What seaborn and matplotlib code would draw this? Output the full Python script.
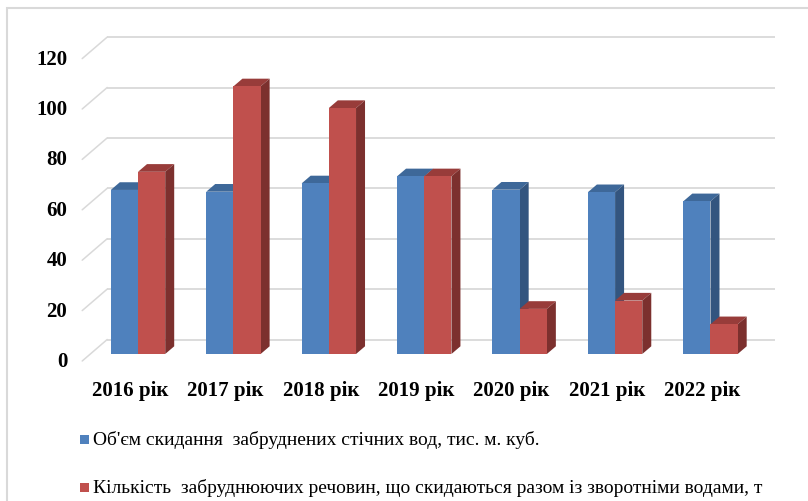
import numpy as np
import pandas as pd
import seaborn as sns
import matplotlib
matplotlib.use("Agg")
import matplotlib.pyplot as plt
from matplotlib.patches import Polygon, Rectangle

# ---------------- data ----------------
years = ["2016 рік", "2017 рік", "2018 рік", "2019 рік", "2020 рік", "2021 рік", "2022 рік"]
series_names = [
    "Об'єм скидання  забруднених стічних вод, тис. м. куб.",
    "Кількість  забруднюючих речовин, що скидаються разом із зворотніми водами, т",
]
volume = [65.1, 64.4, 67.7, 70.5, 65.2, 64.2, 60.6]
pollutants = [72.3, 106.2, 97.6, 70.5, 17.9, 21.2, 11.8]
y_ticks = [0, 20, 40, 60, 80, 100, 120]

front_colors = ["#4F81BD", "#C0504D"]
top_colors = ["#3E6899", "#983C3A"]
side_colors = ["#33557F", "#7C302E"]

df = pd.DataFrame({
    "year": years * 2,
    "value": volume + pollutants,
    "series": [series_names[0]] * len(years) + [series_names[1]] * len(years),
})

# ---------------- figure ----------------
W, H = 808, 502
DPI = 100
sns.set_theme(style="white")
SERIF = ["Liberation Serif", "DejaVu Serif"]
plt.rcParams["font.family"] = SERIF
fig = plt.figure(figsize=(W / DPI, H / DPI), dpi=DPI)

# axes = plane of the bars' front faces (pixel geometry)
x_left, x_right = 90.3, 758.2
y_base, y_top = 355.0, 52.6
ax = fig.add_axes([x_left / W, (H - y_base) / H, (x_right - x_left) / W, (y_base - y_top) / H])

sns.barplot(data=df, x="year", y="value", hue="series", order=years,
            hue_order=series_names, palette=front_colors, width=0.57, gap=0,
            dodge=True, legend=False, ax=ax, saturation=1, linewidth=0, edgecolor="none")
ax.set_xlim(-0.5, len(years) - 0.5)
ax.set_ylim(0, 120)
ax.axis("off")

px_x = (x_right - x_left) / len(years)   # pixels per category unit
px_y = (y_base - y_top) / 120.0          # pixels per value unit

# depth geometry (pixels)
back_dx, back_dy = 16.9, 14.5     # bar front plane -> back wall
front_dx, front_dy = 8.1, 7.0     # bar front plane -> front edge of floor
bar_dx, bar_dy = 9.0, 7.7         # bar depth

bdx, bdy = back_dx / px_x, back_dy / px_y
fdx, fdy = front_dx / px_x, front_dy / px_y
rdx, rdy = bar_dx / px_x, bar_dy / px_y

grid_c = "#D9D9D9"
x0, x1 = -0.5, len(years) - 0.5
for v in y_ticks:
    # back wall gridline
    ax.plot([x0 + bdx, x1 + bdx], [v + bdy, v + bdy], color=grid_c, lw=1.3,
            clip_on=False, zorder=0.2, solid_capstyle="butt")
    # side wall diagonal
    ax.plot([x0 - fdx, x0 + bdx], [v - fdy, v + bdy], color=grid_c, lw=1.1,
            clip_on=False, zorder=0.2)
    ax.text(x0 - fdx - 15 / px_x, v - fdy, f"{v}", ha="right", va="center",
            fontsize=15, fontweight="bold", color="black", clip_on=False, family=SERIF)

# 3D faces from drawn bars
for si, cont in enumerate(ax.containers):
    zf = 1.4 + si * 0.4
    for bar in cont:
        bx, bw, bh = bar.get_x(), bar.get_width(), bar.get_height()
        bar.set_zorder(zf)
        top = Polygon([[bx, bh], [bx + bw, bh], [bx + bw + rdx, bh + rdy], [bx + rdx, bh + rdy]],
                      closed=True, facecolor=top_colors[si], edgecolor="none",
                      zorder=zf - 0.1, clip_on=False)
        side = Polygon([[bx + bw, 0], [bx + bw + rdx, rdy], [bx + bw + rdx, bh + rdy], [bx + bw, bh]],
                       closed=True, facecolor=side_colors[si], edgecolor="none",
                       zorder=zf - 0.1, clip_on=False)
        ax.add_patch(top)
        ax.add_patch(side)

# category labels (front edge)
for i, yl in enumerate(years):
    ax.text(i - fdx, -(391 - y_base) / px_y, yl, ha="center", va="center",
            fontsize=15, fontweight="bold", color="black", clip_on=False, family=SERIF)

# legend
leg_rows = [440, 488]
for si, name in enumerate(series_names):
    yc = leg_rows[si]
    fig.add_artist(Rectangle((80 / W, (H - yc - 4.5) / H), 9 / W, 9 / H,
                             transform=fig.transFigure, facecolor=front_colors[si],
                             edgecolor="none"))
    fig.text(93 / W, (H - yc) / H, name, ha="left", va="center",
             fontsize=14, color="black", family=SERIF)

# chart border
fig.add_artist(Rectangle((7 / W, -0.05), 1.2, (H - 9) / H + 0.05, transform=fig.transFigure,
                         facecolor="none", edgecolor="#D9D9D9", lw=1.5))

fig.savefig("out.png", dpi=DPI)
